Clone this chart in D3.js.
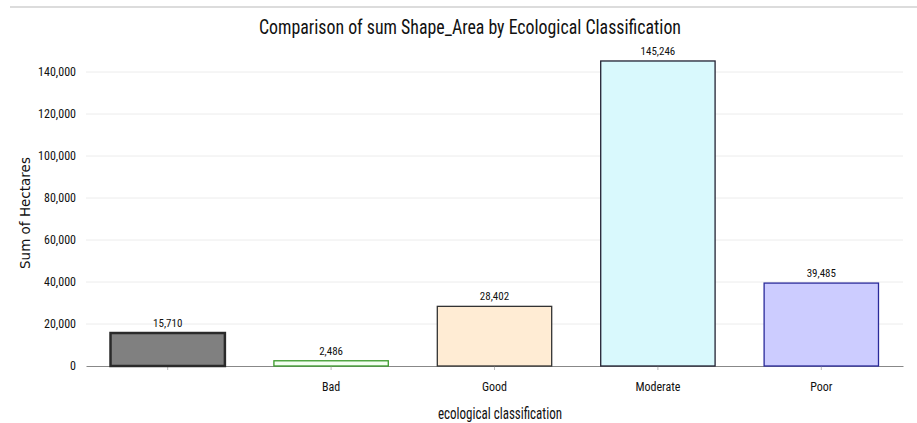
<!DOCTYPE html>
<html>
<head>
<meta charset="utf-8">
<script src="https://cdn.jsdelivr.net/npm/d3@7"></script>
<style>
  body { margin: 0; background: #fff; }
  text { font-family: "Liberation Sans Narrow", "Roboto Condensed", "Liberation Sans", sans-serif; fill: #111; }
</style>
</head>
<body>
<div id="chart"></div>
<script>
var categories = ["", "Bad", "Good", "Moderate", "Poor"];
var values = [15710, 2486, 28402, 145246, 39485];
var fills = ["#808080", "#f4fff2", "#ffecd4", "#d9f9fd", "#ccccff"];
var strokes = ["#2a2a2a", "#3a9a2a", "#333333", "#222233", "#2a2a9a"];
var yTicks = [0, 20000, 40000, 60000, 80000, 100000, 120000, 140000];

var width = 917, height = 423;
var left = 86, right = 903, bottom = 366;

var svg = d3.select('#chart').append('svg').attr('width', width).attr('height', height);

var x = d3.scaleBand().domain(categories).range([left, right]).paddingInner(0.3).paddingOuter(0.15);
var y = d3.scaleLinear().domain([0, 140000]).range([bottom, 72]);

// top rule
svg.append('line').attr('x1', 10).attr('x2', width).attr('y1', 7).attr('y2', 7)
  .attr('stroke', '#d0d0d0').attr('stroke-width', 1.5);

// title
svg.append('text').attr('x', 470).attr('y', 34).attr('text-anchor', 'middle')
  .attr('textLength', 422).attr('lengthAdjust', 'spacingAndGlyphs')
  .style('font-size', '21px').text('Comparison of sum Shape_Area by Ecological Classification');

// gridlines
svg.append('g').selectAll('line').data(yTicks.slice(1)).enter().append('line')
  .attr('x1', left).attr('x2', right)
  .attr('y1', function(d) { return y(d); }).attr('y2', function(d) { return y(d); })
  .attr('stroke', '#ececec');

// y axis
var yAxis = svg.append('g').attr('transform', 'translate(' + left + ',0)')
  .call(d3.axisLeft(y).tickValues(yTicks).tickFormat(d3.format(',')).tickSize(0).tickPadding(10));
yAxis.select('.domain').remove();
yAxis.selectAll('text').style('font-size', '12px');

// x axis
var xAxis = svg.append('g').attr('transform', 'translate(0,' + bottom + ')')
  .call(d3.axisBottom(x).tickSizeOuter(0).tickSizeInner(4).tickPadding(12));
xAxis.select('.domain').attr('stroke', '#888');
xAxis.selectAll('.tick line').attr('stroke', '#bbb');
xAxis.selectAll('text').style('font-size', '12px');

// bars
svg.append('g').selectAll('rect').data(values).enter().append('rect')
  .attr('x', function(d, i) { return x(categories[i]); })
  .attr('y', function(d) { return y(d); })
  .attr('width', x.bandwidth())
  .attr('height', function(d) { return bottom - y(d); })
  .attr('fill', function(d, i) { return fills[i]; })
  .attr('stroke', function(d, i) { return strokes[i]; })
  .attr('stroke-width', function(d, i) { return i === 0 ? 2.5 : 1.3; });

// value labels
svg.append('g').selectAll('text').data(values).enter().append('text')
  .attr('x', function(d, i) { return x(categories[i]) + x.bandwidth() / 2; })
  .attr('y', function(d) { return y(d) - 6; })
  .attr('text-anchor', 'middle').style('font-size', '11px')
  .text(function(d) { return d3.format(',')(d); });

// axis titles
svg.append('text').attr('x', 500).attr('y', 419).attr('text-anchor', 'middle')
  .attr('textLength', 124).attr('lengthAdjust', 'spacingAndGlyphs')
  .style('font-size', '16px').text('ecological classification');
svg.append('text').attr('transform', 'translate(30,213) rotate(-90)').attr('text-anchor', 'middle')
  .style('font-family', '"DejaVu Sans", sans-serif').style('font-size', '13.5px')
  .text('Sum of Hectares');
</script>
</body>
</html>
